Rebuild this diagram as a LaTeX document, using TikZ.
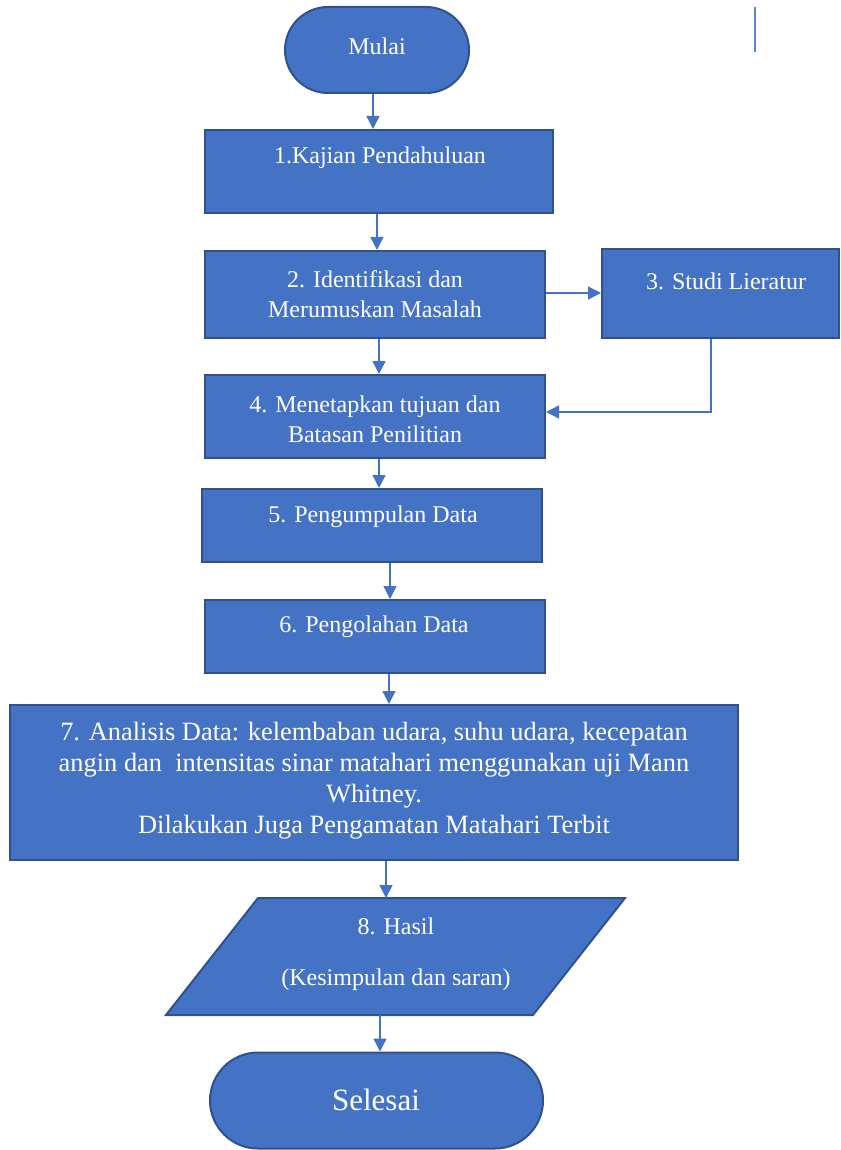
\documentclass[tikz,border=0pt]{standalone}
\usepackage{fontspec}
\setmainfont{Liberation Serif}
\usetikzlibrary{arrows.meta,calc}
\definecolor{boxfill}{HTML}{4472C4}
\definecolor{boxline}{HTML}{2F528F}
\definecolor{arrowcol}{HTML}{4472C4}
\definecolor{straycol}{HTML}{5B84D0}
\tikzset{
  stepbox/.style={draw=boxline, fill=boxfill, line width=2pt, rectangle, inner sep=0pt},
  termbox/.style={stepbox, rounded corners=#1},
  txt/.style={text=white, align=center, font=\fontsize{24}{30}\selectfont, inner sep=0pt},
  bigtxt/.style={text=white, align=center, font=\fontsize{26.4}{31}\selectfont, inner sep=0pt},
  arr/.style={draw=arrowcol, line width=1.4pt, -{Triangle[length=13pt,width=13pt]}},
}
\begin{document}
\begin{tikzpicture}[x=1pt,y=-1pt]
\useasboundingbox (0,0) rectangle (840,1150);
% stray line
\draw[straycol, line width=2pt] (755,7) -- (755,52);
% terminals
\node[termbox=43pt, minimum width=184pt, minimum height=86pt] (mulai) at (377,50) {};
\node[txt] (tmulai) at (377,46) {Mulai};
% boxes
\node[stepbox, minimum width=348pt, minimum height=83pt] (b1) at (379,171.5) {};
\node[txt] (t1) at (380,158) {1.Kajian Pendahuluan};
\node[stepbox, minimum width=340pt, minimum height=87pt] (b2) at (375,294.5) {};
\node[txt] (t2) at (375,294) {2. Identifikasi dan\\Merumuskan Masalah};
\node[stepbox, minimum width=237pt, minimum height=89pt] (b3) at (720.5,293.5) {};
\node[txt] (t3) at (726,281) {3. Studi Lieratur};
\node[stepbox, minimum width=340pt, minimum height=83pt] (b4) at (375,416.5) {};
\node[txt] (t4) at (375,419) {4. Menetapkan tujuan dan\\Batasan Penilitian};
\node[stepbox, minimum width=340pt, minimum height=73pt] (b5) at (372,525.5) {};
\node[txt] (t5) at (373,517) {5. Pengumpulan Data};
\node[stepbox, minimum width=340pt, minimum height=73pt] (b6) at (375,636.5) {};
\node[txt] (t6) at (374,627) {6. Pengolahan Data};
\node[stepbox, minimum width=728pt, minimum height=155pt] (b7) at (374,782.5) {};
\node[bigtxt] (t7) at (374,781) {7. Analisis Data: kelembaban udara, suhu udara, kecepatan\\angin dan \ intensitas sinar matahari menggunakan uji Mann\\Whitney.\\Dilakukan Juga Pengamatan Matahari Terbit};
% parallelogram
\coordinate (p1) at (258,898);
\coordinate (p2) at (625,898);
\coordinate (p3) at (533,1015);
\coordinate (p4) at (166,1015);
\draw[draw=boxline, fill=boxfill, line width=2pt, line join=miter] (p1) -- (p2) -- (p3) -- (p4) -- cycle;
\node[txt] (t8a) at (396,926) {8. Hasil};
\node[txt] (t8b) at (396,980) {(Kesimpulan dan saran)};
\node[termbox=48pt, minimum width=333pt, minimum height=96pt] (selesai) at (376.5,1100.5) {};
\node[text=white, font=\fontsize{31}{36}\selectfont, inner sep=0pt] (tsel) at (376,1100) {Selesai};
% arrow x positions
\coordinate (xa) at (373,0);
\coordinate (xb) at (377,0);
\coordinate (xc) at (379,0);
\coordinate (xd) at (390,0);
\coordinate (xe) at (389,0);
\coordinate (yb) at (0,293);
\coordinate (b8top) at (386,898);
\coordinate (b8bot) at (380,1015);
\coordinate (bend) at (711,412);
% connectors
\draw[arr] (mulai.south -| xa) -- (b1.north -| xa);
\draw[arr] (b1.south -| xb) -- (b2.north -| xb);
\draw[arr] (b2.east |- yb) -- (b3.west |- yb);
\draw[arr] (b2.south -| xc) -- (b4.north -| xc);
\draw[arr] (b3.south -| bend) -- (bend) -- (b4.east |- bend);
\draw[arr] (b4.south -| xc) -- (b5.north -| xc);
\draw[arr] (b5.south -| xd) -- (b6.north -| xd);
\draw[arr] (b6.south -| xe) -- (b7.north -| xe);
\draw[arr] (b7.south -| b8top) -- (b8top);
\draw[arr] (b8bot) -- (selesai.north -| b8bot);
\end{tikzpicture}
\end{document}
